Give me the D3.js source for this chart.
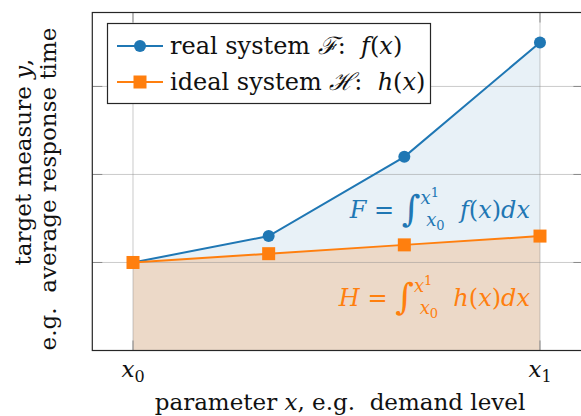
<!DOCTYPE html>
<html>
<head>
<meta charset="utf-8">
<script src="https://cdn.jsdelivr.net/npm/d3@7"></script>
<style>
  html, body { margin: 0; padding: 0; background: #fff; }
  svg text { white-space: pre; }
</style>
</head>
<body>
<div id="chart"></div>
<script>
const blue = "#1f77b4";
const orange = "#ff7f0e";
const serif = "DejaVu Serif";

// parameter positions (x0 .. x1) and measured values
const xVals = [0, 1, 2, 3];
const realVals = [1.0, 1.3, 2.2, 3.5];
const idealVals = [1.0, 1.1, 1.2, 1.3];
const yTicks = [1, 2, 3];
const xTicks = [0, 3];
const xTickSubs = ["0", "1"];
const legendNames = ["real system ", "ideal system "];
const legendSets = ["\u2131", "\u210B"];
const legendFns = ["f", "h"];

const W = 581, H = 416, fs = 23;
const svg = d3.select("#chart").append("svg")
    .attr("width", W)
    .attr("height", H);

var x = d3.scaleLinear().domain([-0.3, 3.32]).range([92.3, 583.4]);
var y = d3.scaleLinear().domain([0, 3.84]).range([350.5, 12.5]);

var realPts = xVals.map(function(d, i) { return [d, realVals[i]]; });
var idealPts = xVals.map(function(d, i) { return [d, idealVals[i]]; });

function txt(sel) {
    return sel.append("text").style("font-family", serif).style("white-space", "pre").attr("fill", "#111");
}

// filled areas under both curves
var area = d3.area()
    .x(function(d) { return x(d[0]); })
    .y0(y(0))
    .y1(function(d) { return y(d[1]); });
svg.append("path").attr("d", area(realPts)).attr("fill", blue).attr("fill-opacity", 0.1);
svg.append("path").attr("d", area(idealPts)).attr("fill", orange).attr("fill-opacity", 0.2);

// grid
var grid = svg.append("g").attr("stroke", "#8c8c8c").attr("stroke-opacity", 0.45).attr("stroke-width", 1);
grid.selectAll(".gx").data(xTicks).join("line")
    .attr("x1", function(d) { return x(d); }).attr("x2", function(d) { return x(d); })
    .attr("y1", y.range()[0]).attr("y2", y.range()[1]);
grid.selectAll(".gy").data(yTicks).join("line")
    .attr("y1", function(d) { return y(d); }).attr("y2", function(d) { return y(d); })
    .attr("x1", x.range()[0]).attr("x2", x.range()[1]);

// ticks (inward, both sides)
var tickLen = 10;
var ticks = svg.append("g").attr("stroke", "#8a8a8a").attr("stroke-width", 1);
yTicks.forEach(function(d) {
    ticks.append("line").attr("x1", x.range()[0]).attr("x2", x.range()[0] + tickLen).attr("y1", y(d)).attr("y2", y(d));
    ticks.append("line").attr("x1", x.range()[1]).attr("x2", x.range()[1] - tickLen).attr("y1", y(d)).attr("y2", y(d));
});
xTicks.forEach(function(d) {
    ticks.append("line").attr("x1", x(d)).attr("x2", x(d)).attr("y1", y.range()[0]).attr("y2", y.range()[0] - tickLen);
    ticks.append("line").attr("x1", x(d)).attr("x2", x(d)).attr("y1", y.range()[1]).attr("y2", y.range()[1] + tickLen);
});

// lines + markers
var line = d3.line().x(function(d) { return x(d[0]); }).y(function(d) { return y(d[1]); });
svg.append("path").attr("d", line(realPts)).attr("fill", "none").attr("stroke", blue).attr("stroke-width", 2);
svg.append("path").attr("d", line(idealPts)).attr("fill", "none").attr("stroke", orange).attr("stroke-width", 2);
svg.selectAll(".pr").data(realPts).join("circle")
    .attr("cx", function(d) { return x(d[0]); })
    .attr("cy", function(d) { return y(d[1]); })
    .attr("r", 6).attr("fill", blue);
svg.selectAll(".pi").data(idealPts).join("rect")
    .attr("x", function(d) { return x(d[0]) - 6.5; })
    .attr("y", function(d) { return y(d[1]) - 6.5; })
    .attr("width", 13).attr("height", 13).attr("fill", orange);

// axis frame
svg.append("rect")
    .attr("x", x.range()[0]).attr("y", y.range()[1])
    .attr("width", x.range()[1] - x.range()[0])
    .attr("height", y.range()[0] - y.range()[1])
    .attr("fill", "none").attr("stroke", "#262626").attr("stroke-width", 1.2);

// x tick labels
xTicks.forEach(function(d, i) {
    var t = txt(svg).attr("x", x(d)).attr("y", 377)
        .attr("text-anchor", "middle").attr("font-size", fs);
    t.append("tspan").attr("font-style", "italic").text("x");
    t.append("tspan").attr("font-size", 16).attr("dy", 5).text(xTickSubs[i]);
});

// axis labels
var xl = txt(svg).attr("x", 340).attr("y", 410)
    .attr("text-anchor", "middle").attr("font-size", fs);
xl.append("tspan").text("parameter ");
xl.append("tspan").attr("font-style", "italic").text("x");
xl.append("tspan").text(", e.g.  demand level");

var yl = txt(svg).attr("transform", "translate(31,162) rotate(-90)")
    .attr("text-anchor", "middle").attr("font-size", fs);
yl.append("tspan").text("target measure ");
yl.append("tspan").attr("font-style", "italic").text("y");
yl.append("tspan").text(",");
txt(svg).attr("transform", "translate(56,189) rotate(-90)")
    .attr("text-anchor", "middle").attr("font-size", fs)
    .text("e.g.  average response time");

// legend
var leg = svg.append("g");
leg.append("rect").attr("x", 107.5).attr("y", 23.5).attr("width", 323).attr("height", 80)
    .attr("fill", "#fff").attr("stroke", "#262626").attr("stroke-width", 1.2);
[blue, orange].forEach(function(c, i) {
    var cy = 46 + i * 36;
    leg.append("line").attr("x1", 117).attr("x2", 163).attr("y1", cy).attr("y2", cy)
        .attr("stroke", c).attr("stroke-width", 2);
    if (i === 0) {
        leg.append("circle").attr("cx", 140).attr("cy", cy).attr("r", 6).attr("fill", c);
    } else {
        leg.append("rect").attr("x", 133.5).attr("y", cy - 6.5).attr("width", 13).attr("height", 13).attr("fill", c);
    }
    var t = txt(leg).attr("x", 170).attr("y", cy + 8).attr("font-size", 24);
    t.append("tspan").text(legendNames[i]);
    t.append("tspan").attr("font-style", "italic").text(legendSets[i]);
    t.append("tspan").text(":  ");
    t.append("tspan").attr("font-style", "italic").text(legendFns[i]);
    t.append("tspan").text("(");
    t.append("tspan").attr("font-style", "italic").text("x");
    t.append("tspan").text(")");
});

// integral annotations, laid out piece by piece, right-aligned
function mathText(pieces, color, right, baseline) {
    var g = svg.append("g");
    var cx = 0, mark = 0, far = 0;
    pieces.forEach(function(p) {
        if (p.mark) { mark = cx; far = cx; return; }
        if (p.back) { cx = mark; return; }
        if (p.join) { cx = far; return; }
        var t = txt(g).attr("x", cx).attr("y", p.dy || 0)
            .attr("font-size", p.size || 24)
            .attr("font-style", p.it ? "italic" : "normal")
            .attr("fill", color).text(p.t);
        cx += t.node().getComputedTextLength();
        far = Math.max(far, cx);
    });
    g.attr("transform", "translate(" + (right - cx) + "," + baseline + ")");
}
function integral(name, fn) {
    return [
        {t: name, it: true}, {t: " = "},
        {t: "\u222B", size: 36, dy: 3},
        {mark: true},
        {t: "x", it: true, size: 18, dy: -14}, {t: "1", size: 13, dy: -21},
        {back: true},
        {t: " x", it: true, size: 18, dy: 8}, {t: "0", size: 13, dy: 12},
        {join: true},
        {t: "  "},
        {t: fn, it: true}, {t: "("}, {t: "x", it: true}, {t: ")"}, {t: "dx", it: true}
    ];
}
mathText(integral("F", "f"), blue, 530, 218);
mathText(integral("H", "h"), orange, 530, 306);
</script>
</body>
</html>
